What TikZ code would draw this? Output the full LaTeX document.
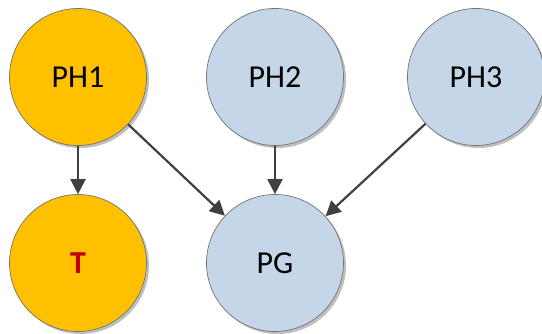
\documentclass[tikz,border=0pt]{standalone}
\usepackage{fontspec}
\setmainfont{Carlito}
\usepackage{tikz}
\usetikzlibrary{arrows.meta,shadows}
\definecolor{phorange}{HTML}{FFC000}
\definecolor{phblue}{HTML}{C4D6E8}
\definecolor{edgegray}{HTML}{404040}
\definecolor{tred}{HTML}{C00000}
\tikzset{
  circ/.style={circle, draw=black!55, line width=0.7pt, minimum size=137pt, inner sep=0pt,
    font=\fontsize{32}{36}\selectfont,
    drop shadow={shadow xshift=2.5pt, shadow yshift=-2.5pt, opacity=0.25, fill=black}},
  hyp/.style={circ, fill=phblue},
  obs/.style={circ, fill=phorange},
  link/.style={draw=edgegray, line width=2.2pt, -{Triangle[length=15pt,width=15pt]}}
}
\begin{document}
\begin{tikzpicture}[x=1pt,y=-1pt]
\useasboundingbox (0,0) rectangle (542,334);

\node[obs] (ph1) at (78,77) {PH1};
\node[hyp] (ph2) at (275,77) {PH2};
\node[hyp] (ph3) at (476,77) {PH3};
\node[obs, text=tred] (t) at (78,263) {\textbf{T}};
\node[hyp] (pg) at (275,263) {PG};

%\node (A1) at (ph1.south) {};
\draw[link] (ph1) -- (t);
\draw[link] (ph1) -- (pg);
\draw[link] (ph2) -- (pg);
\draw[link] (ph3) -- (pg);
\end{tikzpicture}
\end{document}
